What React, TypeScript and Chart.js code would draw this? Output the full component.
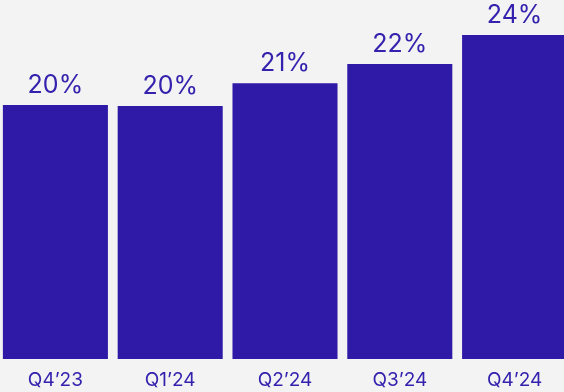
import React, { useEffect, useRef } from "react";
import { Chart, registerables } from "chart.js";

Chart.register(...registerables);

const categories = ["Q4\u201923", "Q1\u201924", "Q2\u201924", "Q3\u201924", "Q4\u201924"];
const values = [20.0, 19.95, 21.25, 22.35, 24.0];
const valueLabels = ["20%", "20%", "21%", "22%", "24%"];

const BAR_COLOR = "#2e1aa6";
const TEXT_COLOR = "#3422ae";
const BG = "#f2f3f2";
const FONT = "Inter, 'Noto Sans', sans-serif";

const valueLabelPlugin = {
  id: "valueLabels",
  afterDatasetsDraw(chart: any) {
    const ctx = chart.ctx;
    const meta = chart.getDatasetMeta(0);
    ctx.save();
    ctx.font = `400 25px ${FONT}`;
    ctx.fillStyle = TEXT_COLOR;
    ctx.textAlign = "center";
    ctx.textBaseline = "alphabetic";
    meta.data.forEach((bar: any, i: number) => {
      ctx.fillText(valueLabels[i], bar.x, bar.y - 12);
    });
    ctx.restore();
  },
};

export default function App() {
  const ref = useRef<HTMLCanvasElement | null>(null);
  useEffect(() => {
    document.body.style.margin = "0";
    document.body.style.background = BG;
    const chart = new Chart(ref.current as HTMLCanvasElement, {
      type: "bar",
      data: {
        labels: categories,
        datasets: [
          {
            data: values,
            backgroundColor: BAR_COLOR,
            borderWidth: 0,
            barPercentage: 0.915,
            categoryPercentage: 1,
          },
        ],
      },
      options: {
        responsive: false,
        animation: false,
        devicePixelRatio: 1,
        layout: { padding: { top: 0, bottom: 0, left: 0, right: 0 } },
        plugins: { legend: { display: false }, tooltip: { enabled: false } },
        scales: {
          x: {
            grid: { display: false, drawTicks: false },
            border: { display: false },
            ticks: {
              color: TEXT_COLOR,
              font: { family: FONT, size: 19 },
              padding: 10,
              maxRotation: 0,
            },
            afterFit(scale: any) {
              scale.height = 33;
            },
          },
          y: { display: false, min: 5.5, max: 26 },
        },
      },
      plugins: [valueLabelPlugin],
    });
    return () => chart.destroy();
  }, []);
  return (
    <div style={{ position: "absolute", left: -2, top: 0, width: 574, height: 392, background: BG }}>
      <canvas ref={ref} width={574} height={392} style={{ display: "block" }} />
    </div>
  );
}
